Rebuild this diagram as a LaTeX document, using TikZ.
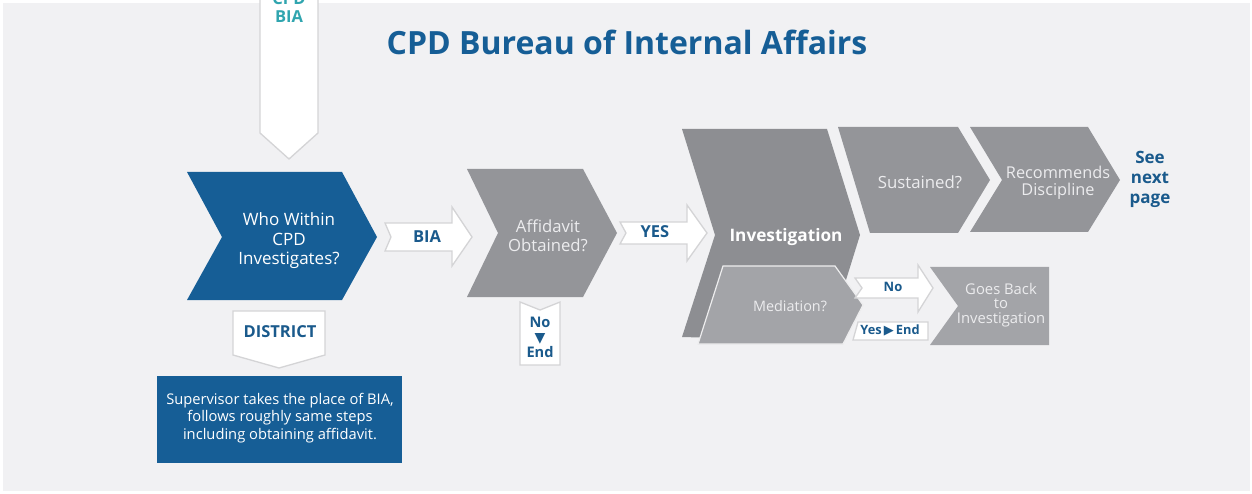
\documentclass[tikz,border=0pt]{standalone}
\usepackage{fontspec}
\setmainfont{Open Sans}
\newfontfamily\symfont{DejaVu Sans}
\definecolor{bg}{RGB}{241,241,243}
\definecolor{cpdblue}{RGB}{22,94,150}
\definecolor{txtblue}{RGB}{26,90,140}
\definecolor{gA}{RGB}{148,149,153}
\definecolor{gInv}{RGB}{141,142,146}
\definecolor{gL}{RGB}{163,164,168}
\definecolor{tealc}{RGB}{48,165,175}
\definecolor{arrowedge}{RGB}{212,212,214}
\definecolor{lighttxt}{RGB}{236,236,238}
\newcommand{\fs}[2]{\fontsize{#1}{#2}\selectfont}
\begin{document}
\begin{tikzpicture}[x=1pt,y=-1pt,
  blockarrow/.style={fill=white, draw=arrowedge, line width=1.3pt, line join=miter},
  lbl/.style={text=txtblue, font=\bfseries\fs{16.5}{18}, align=center, inner sep=0pt},
  wtxt/.style={text=white, align=center, inner sep=0pt},
  ltxt/.style={text=lighttxt, align=center, inner sep=0pt}]
\useasboundingbox (0,0) rectangle (1252,494);
\clip (0,0) rectangle (1252,494);
\fill[bg] (3,3) rectangle (1250,491);

% title
\node[text=cpdblue, font=\bfseries\fs{32}{36}, inner sep=0pt] (title) at (627,42) {CPD Bureau of Internal Affairs};

% top incoming arrow
\draw[blockarrow] (260,-20) -- (318,-20) -- (318,133) -- (289,159) -- (260,133) -- cycle;
\node[text=tealc, font=\bfseries\fs{16.5}{18}, align=center, inner sep=0pt] (cpdbia) at (289,8) {CPD\\BIA};

% who within CPD investigates
\fill[cpdblue] (187,172) -- (342,172) -- (377,237) -- (342,300) -- (187,300) -- (222,237) -- cycle;
\node[wtxt, font=\fs{17}{19.5}] (who) at (289,241) {Who Within\\CPD\\Investigates?};

% BIA arrow
\draw[blockarrow] (385,223) -- (452,223) -- (452,207) -- (472,237) -- (452,266) -- (452,251) -- (385,251) -- (391,237) -- cycle;
\node[lbl] (bia) at (427,237) {BIA};

% DISTRICT
\draw[blockarrow] (233,311) -- (325,311) -- (325,355) -- (279,368) -- (233,355) -- cycle;
\node[lbl] (district) at (280,332) {DISTRICT};

% supervisor box
\fill[cpdblue] (157,376) rectangle (402,463);
\node[wtxt, font=\fs{14.7}{17.5}] (sup) at (280,418) {Supervisor takes the place of BIA,\\follows roughly same steps\\including obtaining affidavit.};

% affidavit
\fill[gA] (467,169) -- (583,169) -- (617,233) -- (583,297) -- (467,297) -- (498,233) -- cycle;
\node[ltxt, font=\fs{16.7}{19}] (aff) at (548,236) {Affidavit\\Obtained?};

% No End
\draw[blockarrow] (520,302) -- (540,310) -- (560,302) -- (560,365) -- (520,365) -- cycle;
\node[lbl, font=\bfseries\fs{14.6}{15}] (noend) at (540,337) {No\\{\symfont\fs{14}{15}▼}\\End};

% YES arrow
\draw[blockarrow] (620,222) -- (687,222) -- (687,205) -- (707,233) -- (687,261) -- (687,244) -- (620,244) -- (626,233) -- cycle;
\node[lbl] (yes) at (655,232) {YES};

% Investigation
\fill[gInv] (682,129) -- (827,129) -- (860,235) -- (827,341) -- (682,337) -- (715,235) -- cycle;
\node[wtxt, font=\bfseries\fs{17.2}{19}] (inv) at (786,237) {Investigation};

% Mediation
\draw[fill=gL, draw=white!80!gL, line width=1.2pt] (723,266) -- (835,266) -- (863,305) -- (843,344) -- (698,344) -- cycle;
\node[ltxt, font=\fs{14.4}{17}] (med) at (790,306) {Mediation?};

% No arrow
\draw[blockarrow] (855,278) -- (918,278) -- (918,265) -- (933,288) -- (918,312) -- (918,298) -- (855,298) -- (862,288) -- cycle;
\node[lbl, font=\bfseries\fs{13}{15}] (no) at (893,287) {No};

% Yes End
\draw[blockarrow] (858,322) -- (928,322) -- (928,340) -- (853,340) -- cycle;
\node[lbl, font=\bfseries\fs{12.8}{14}] (yesend) at (890,330) {Yes\,{\symfont\fs{13}{14}▶}\,End};

% Goes back
\fill[gL] (930,267) -- (1049,267) -- (1049,345) -- (930,345) -- (958,306) -- cycle;
\node[ltxt, font=\fs{14.8}{14.5}] (goes) at (1001,305) {Goes Back\\to\\Investigation};

% Sustained
\fill[gA] (838,127) -- (958,127) -- (990,180) -- (958,233) -- (870,233) -- cycle;
\node[ltxt, font=\fs{16.8}{17}] (sust) at (920,182) {Sustained?};

% Recommends
\fill[gA] (970,127) -- (1088,127) -- (1120,180) -- (1088,232) -- (970,232) -- (1002,180) -- cycle;
\node[ltxt, font=\fs{16.3}{17}] (rec) at (1058,183) {Recommends\\Discipline};

% See next page
\node[lbl, font=\bfseries\fs{17}{20}] (see) at (1150,179) {See\\next\\page};
\end{tikzpicture}
\end{document}
